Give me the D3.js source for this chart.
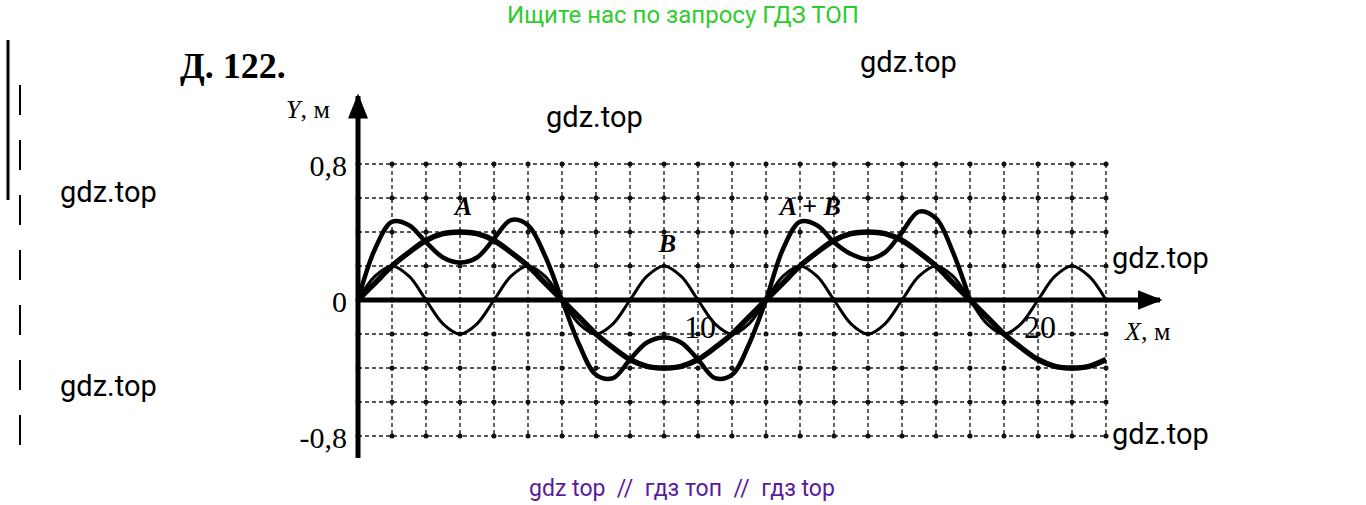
<!DOCTYPE html>
<html><head><meta charset="utf-8">
<script src="https://cdn.jsdelivr.net/npm/d3@7"></script>
<style>body{margin:0;background:#fff}</style>
</head><body>
<svg id="chart" width="1366" height="505"></svg>
<script>
// values, x step 0.5 m
const xsA = d3.range(0, 22.01, 0.5);
const valuesA = [0,.10,.20,.28,.35,.39,.40,.39,.35,.28,.20,.10,0,-.10,-.20,-.28,-.35,-.39,-.40,-.39,-.35,-.28,-.20,-.10,
  0,.10,.20,.28,.35,.39,.40,.39,.35,.28,.20,.10,0,-.10,-.20,-.28,-.35,-.39,-.40,-.39,-.35];
const valuesB = [0,.14,.20,.14,0,-.14,-.20,-.14,0,.14,.20,.14,0,-.14,-.20,-.14,0,.14,.20,.14,0,-.14,-.20,-.14,
  0,.14,.20,.14,0,-.14,-.20,-.14,0,.14,.20,.14,0,-.14,-.20,-.14,0,.14,.20,.14,0];
const valuesAB = [0,.30,.46,.44,.34,.25,.22,.25,.36,.47,.44,.26,0,-.26,-.44,-.46,-.35,-.25,-.22,-.25,-.35,-.46,-.44,-.26,
  0,.30,.46,.44,.34,.27,.24,.28,.40,.52,.48,.28,0];
const curveLabels = [{t:"A",x:3.1,y:.5},{t:"B",x:9.1,y:.28},{t:"A + B",x:13.3,y:.5}];
const yTicks = [{v:.8,t:"0,8"},{v:0,t:"0"},{v:-.8,t:"-0,8"}];
const xTicks = [{v:10,t:"10"},{v:20,t:"20"}];

const svg = d3.select("#chart");
const x = d3.scaleLinear().domain([0, 22]).range([358, 1106]);
const y = d3.scaleLinear().domain([-0.8, 0.8]).range([436, 164]);

// dotted grid
const grid = svg.append("g").attr("stroke", "#222").attr("stroke-width", 1.4).attr("stroke-dasharray", "4,3");
grid.selectAll(".v").data(d3.range(1, 23)).enter().append("line")
  .attr("x1", d => x(d)).attr("x2", d => x(d)).attr("y1", y(0.8)).attr("y2", y(-0.8));
grid.selectAll(".h").data(d3.range(-4, 5)).enter().append("line")
  .attr("x1", x(0)).attr("x2", x(22)).attr("y1", d => y(d * 0.2)).attr("y2", d => y(d * 0.2));
const pts = [];
d3.range(0, 23).forEach(i => d3.range(-4, 5).forEach(j => pts.push([i, j * 0.2])));
svg.append("g").selectAll("circle").data(pts).enter().append("circle")
  .attr("cx", d => x(d[0])).attr("cy", d => y(d[1])).attr("r", 2.5).attr("fill", "#111");

// axes
svg.append("defs").append("marker").attr("id", "arr").attr("viewBox", "0 -5 10 10")
  .attr("refX", 9).attr("markerWidth", 5).attr("markerHeight", 5).attr("orient", "auto")
  .append("path").attr("d", "M0,-4L10,0L0,4Z").attr("fill", "#000");
svg.append("line").attr("x1", x(0)).attr("x2", 1160).attr("y1", y(0)).attr("y2", y(0))
  .attr("stroke", "#000").attr("stroke-width", 5).attr("marker-end", "url(#arr)");
svg.append("line").attr("x1", x(0)).attr("x2", x(0)).attr("y1", 458).attr("y2", 96)
  .attr("stroke", "#000").attr("stroke-width", 5).attr("marker-end", "url(#arr)");

const line = vals => d3.line().x((d, i) => x(xsA[i])).y(d => y(d)).curve(d3.curveCatmullRom)(vals);
svg.append("path").attr("d", line(valuesB)).attr("fill", "none").attr("stroke", "#000").attr("stroke-width", 3);
svg.append("path").attr("d", line(valuesA)).attr("fill", "none").attr("stroke", "#000").attr("stroke-width", 5.5);
svg.append("path").attr("d", line(valuesAB)).attr("fill", "none").attr("stroke", "#000").attr("stroke-width", 4.5);

const serif = "'Liberation Serif','DejaVu Serif',serif";
svg.append("g").selectAll("text").data(curveLabels).enter().append("text")
  .attr("x", d => x(d.x)).attr("y", d => y(d.y)).attr("text-anchor", "middle")
  .attr("font-family", serif).attr("font-style", "italic").attr("font-weight", "bold").attr("font-size", 26)
  .text(d => d.t);
svg.append("g").selectAll("text").data(yTicks).enter().append("text")
  .attr("x", 347).attr("y", d => y(d.v) + 12).attr("text-anchor", "end")
  .attr("font-family", serif).attr("font-size", 30).text(d => d.t);
svg.append("g").selectAll("text").data(xTicks).enter().append("text")
  .attr("x", d => x(d.v) + 2).attr("y", y(0) + 38).attr("text-anchor", "middle")
  .attr("font-family", serif).attr("font-size", 32).text(d => d.t);
svg.append("text").attr("x", 286).attr("y", 118).attr("font-family", serif).attr("font-size", 26)
  .html("<tspan font-style='italic'>Y</tspan>, м");
svg.append("text").attr("x", 1125).attr("y", 340).attr("font-family", serif).attr("font-size", 26)
  .html("<tspan font-style='italic'>X</tspan>, м");
svg.append("text").attr("x", 180).attr("y", 78).attr("font-family", serif).attr("font-weight", "bold")
  .attr("font-size", 36).text("Д. 122.");

// scan edge marks
svg.append("line").attr("x1", 8).attr("x2", 8).attr("y1", 40).attr("y2", 200).attr("stroke", "#000").attr("stroke-width", 3);
svg.append("line").attr("x1", 20).attr("x2", 20).attr("y1", 85).attr("y2", 460).attr("stroke", "#000")
  .attr("stroke-width", 2).attr("stroke-dasharray", "30,25");

// watermarks
svg.append("text").attr("x", 683).attr("y", 23).attr("text-anchor", "middle").attr("font-family", "Roboto")
  .attr("font-size", 24).attr("fill", "#2ecc2e").text("Ищите нас по запросу ГДЗ ТОП");
svg.append("text").attr("x", 682).attr("y", 496).attr("text-anchor", "middle").attr("font-family", "Roboto")
  .attr("font-size", 23).attr("fill", "#5a1a9a").attr("xml:space", "preserve").text("gdz top  //  гдз топ  //  гдз top");
const marks = [[860,72],[546,127],[60,202],[1112,268],[60,396],[1112,444]];
svg.append("g").selectAll("text").data(marks).enter().append("text")
  .attr("x", d => d[0]).attr("y", d => d[1]).attr("font-family", "Roboto").attr("font-size", 29)
  .attr("fill", "#000").text("gdz.top");
</script>
</body></html>
